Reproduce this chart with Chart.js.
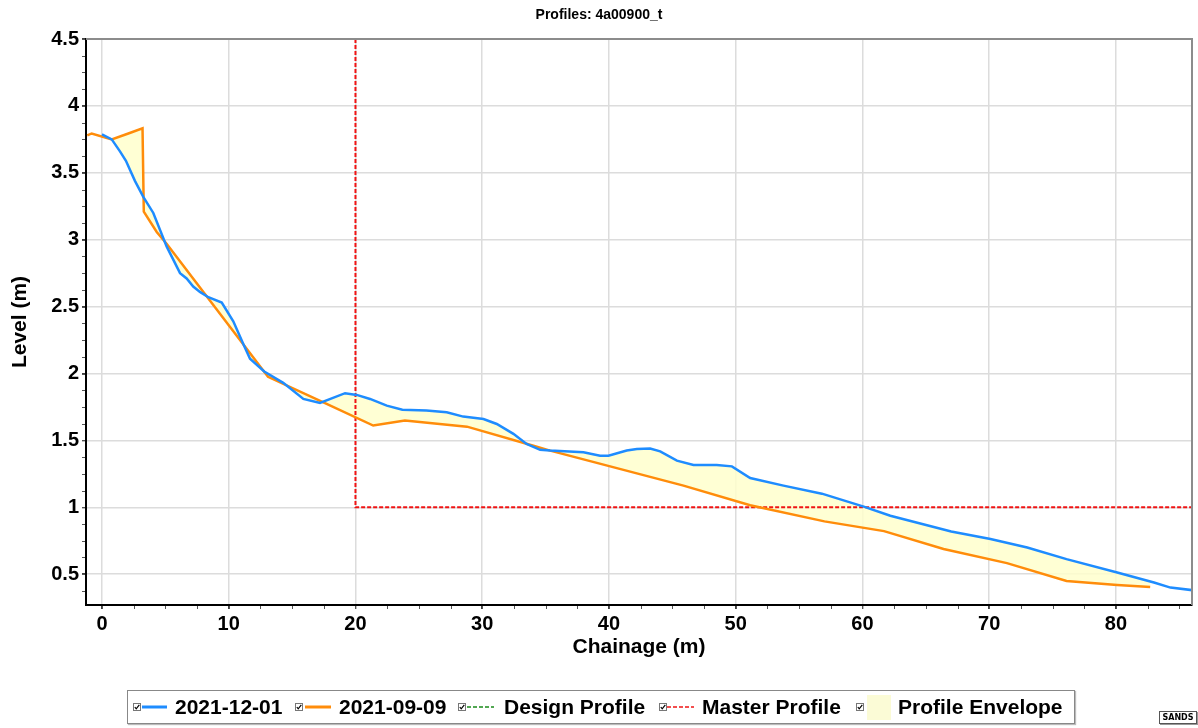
<!DOCTYPE html>
<html>
<head>
<meta charset="utf-8">
<script src="https://cdn.jsdelivr.net/npm/chart.js@4/dist/chart.umd.min.js"></script>
<style>
  html, body { margin: 0; padding: 0; background: #fff; }
  body { width: 1198px; height: 728px; position: relative; overflow: hidden; font-family: "Liberation Sans", Arial, sans-serif; }
  #wrap { position: absolute; left: 0; top: 0; width: 1198px; height: 728px; }
  #title { position: absolute; left: 0; top: 5px; width: 1198px; text-align: center; font-weight: bold; font-size: 14px; line-height: 18px; color: #000; }
  #legend { position: absolute; left: 127px; top: 690px; width: 946px; height: 32px; border: 1px solid #888; box-shadow: 1px 1px 1px #bbb; background: #fff; }
  .it { position: absolute; top: 0; height: 32px; line-height: 32px; font-weight: bold; font-size: 21px; color: #000; white-space: nowrap; }
  .sw { position: absolute; top: 0; display: block; }
  #sands { position: absolute; left: 1159px; top: 711px; width: 36px; height: 11px; border: 1px solid #555; box-shadow: 1px 1px 0 #999;
           font: bold 8px "DejaVu Sans", sans-serif; line-height: 11px; text-align: center; color: #000; }
</style>
</head>
<body>
<div id="wrap"><canvas id="myChart" width="1198" height="728"></canvas></div>
<div id="title">Profiles: 4a00900_t</div>
<div id="legend"></div>
<div id="sands">SANDS</div>
<script>
// 2021-12-01 survey
const chainDec = [0, 0.77, 1.42, 1.89, 2.6, 3.26, 4.05, 5.1, 6.16, 6.68, 7.2, 7.73, 8.39, 9.45, 10.36, 11.15, 11.68, 12.8, 14.3, 15.89,
  17.2, 19.18, 20.1, 21.15, 22.47, 23.7, 25.6, 27.2, 28.5, 30.1, 31.15, 32.46, 33.5, 34.57, 35.36, 37.99, 39.3, 39.96, 41.4, 42.2,
  43.25, 44.04, 45.36, 46.67, 48.5, 49.7, 51.14, 53.77, 56.8, 60.1, 62.2, 67.0, 70.1, 73.0, 76.1, 80.1, 83.0, 84.3, 86.1];
const levelDec = [3.787, 3.75, 3.66, 3.59, 3.44, 3.32, 3.2, 2.95, 2.75, 2.71, 2.65, 2.61, 2.57, 2.53, 2.39, 2.22, 2.11, 2.015, 1.93, 1.81,
  1.78, 1.853, 1.84, 1.81, 1.76, 1.73, 1.723, 1.71, 1.678, 1.66, 1.623, 1.549, 1.474, 1.43, 1.424, 1.411, 1.386, 1.386, 1.424, 1.436,
  1.44, 1.418, 1.349, 1.317, 1.317, 1.306, 1.219, 1.162, 1.102, 1.005, 0.937, 0.82, 0.763, 0.70, 0.613, 0.513, 0.438, 0.40, 0.38];

// 2021-09-09 survey
const chainSep = [-1.16, -0.81, 0.77, 2.08, 3.2, 3.3, 4.32, 5.1, 13.1, 17.47, 21.4, 23.9, 28.8, 34.04, 35.36, 45.88, 51.14, 57.0,
  61.7, 66.4, 71.4, 76.1, 80.1, 82.7];
const levelSep = [3.78, 3.794, 3.75, 3.794, 3.832, 3.21, 3.058, 2.97, 1.975, 1.785, 1.611, 1.648, 1.603, 1.46, 1.424, 1.162, 1.015, 0.895,
  0.822, 0.688, 0.583, 0.45, 0.42, 0.405];

// master profile
const chainMaster = [20, 20, 86];
const levelMaster = [4.5, 1.0, 1.0];

const xMin = -1.26, xMax = 86;
const yMin = 0.27, yMax = 4.5;

const legendItems = [
  { label: "2021-12-01", kind: "solid", color: "#1e8cff", cb: 133, l0: 142, l1: 167, tx: 175 },
  { label: "2021-09-09", kind: "solid", color: "#ff8c0a", cb: 295, l0: 305, l1: 331, tx: 339 },
  { label: "Design Profile", kind: "dash", color: "#1a8a1a", cb: 458, l0: 467, l1: 494, tx: 504 },
  { label: "Master Profile", kind: "dash", color: "#f01414", cb: 659, l0: 667, l1: 694, tx: 702 },
  { label: "Profile Envelope", kind: "box", color: "#fbfbd6", cb: 856, l0: 867, l1: 891, tx: 898 },
];

function pts(xs, ys) {
  return xs.map((x, i) => ({ x: x, y: ys[i] }));
}

const FONT = "'Liberation Sans', Arial, sans-serif";

// frame on top/right and minor ticks on the axes
const frame = {
  id: "frame",
  afterDraw(chart) {
    const { ctx, chartArea: a, scales } = chart;
    const x = scales.x, y = scales.y;
    ctx.save();
    ctx.strokeStyle = "#8c8c8c";
    ctx.lineWidth = 2;
    ctx.beginPath();
    ctx.moveTo(a.left, a.top);
    ctx.lineTo(a.right, a.top);
    ctx.lineTo(a.right, a.bottom);
    ctx.stroke();

    ctx.strokeStyle = "#555";
    ctx.lineWidth = 1;
    ctx.beginPath();
    for (let v = -2.5; v <= xMax; v += 2.5) {
      if (v < xMin) continue;
      const px = Math.round(x.getPixelForValue(v)) + 0.5;
      ctx.moveTo(px, a.bottom + 1);
      ctx.lineTo(px, a.bottom + 4);
    }
    for (let v = 0.25; v <= yMax; v += 0.125) {
      if (v < yMin) continue;
      const py = Math.round(y.getPixelForValue(v)) + 0.5;
      ctx.moveTo(a.left - 1, py);
      ctx.lineTo(a.left - 4, py);
    }
    ctx.stroke();
    ctx.restore();
  }
};

const ctx = document.getElementById("myChart").getContext("2d");
const myChart = new Chart(ctx, {
  type: "line",
  data: {
    datasets: [
      {
        label: "2021-12-01",
        data: pts(chainDec, levelDec),
        borderColor: "#1e8cff",
        borderWidth: 2.5,
        pointRadius: 0,
        tension: 0,
        fill: { target: 1, above: "rgba(255,255,205,0.85)", below: "rgba(255,255,205,0.85)" },
      },
      {
        label: "2021-09-09",
        data: pts(chainSep, levelSep),
        borderColor: "#ff8c0a",
        borderWidth: 2.5,
        pointRadius: 0,
        tension: 0,
        fill: false,
      },
      {
        label: "Master Profile",
        data: pts(chainMaster, levelMaster),
        borderColor: "#f01414",
        borderWidth: 2,
        borderDash: [4, 2],
        pointRadius: 0,
        tension: 0,
        fill: false,
      },
      {
        label: "Design Profile",
        data: [],
        borderColor: "#1a8a1a",
        borderDash: [4, 2],
        pointRadius: 0,
      },
    ],
  },
  options: {
    responsive: true,
    maintainAspectRatio: false,
    animation: false,
    devicePixelRatio: 1,
    layout: { padding: { top: 39, right: 6, bottom: 68, left: 0 } },
    plugins: {
      legend: { display: false },
      title: { display: false },
      tooltip: { enabled: false },
      filler: { drawTime: "beforeDatasetsDraw" },
    },
    scales: {
      x: {
        type: "linear",
        min: xMin,
        max: xMax,
        afterFit: (s) => { s.height = 55; },
        ticks: {
          stepSize: 10,
          includeBounds: false,
          padding: 3,
          color: "#000",
          font: { family: FONT, size: 20, weight: "bold" },
          maxRotation: 0,
        },
        grid: { color: "#dcdcdc", lineWidth: 1.5, tickColor: "#000", tickLength: 4, tickWidth: 1 },
        border: { color: "#000", width: 2 },
        title: {
          display: true,
          text: "Chainage (m)",
          color: "#000",
          padding: { top: 0, bottom: 0 },
          font: { family: FONT, size: 21, weight: "bold" },
        },
      },
      y: {
        type: "linear",
        min: yMin,
        max: yMax,
        afterFit: (s) => { s.width = 86; },
        ticks: {
          stepSize: 0.5,
          includeBounds: false,
          padding: 3,
          color: "#000",
          font: { family: FONT, size: 20, weight: "bold" },
          callback: (v) => String(+v.toFixed(2)),
        },
        grid: { color: "#dcdcdc", lineWidth: 1.5, tickColor: "#000", tickLength: 4, tickWidth: 1 },
        border: { color: "#000", width: 2 },
        title: {
          display: true,
          text: "Level (m)",
          color: "#000",
          padding: { top: 8, bottom: 0 },
          font: { family: FONT, size: 21, weight: "bold" },
        },
      },
    },
  },
  plugins: [frame],
});

// legend row with check boxes, as drawn by the original tool
const legendEl = document.getElementById("legend");
const off = 128;
legendItems.forEach((it) => {
  const w = it.l1 - it.cb + 2;
  let mark;
  if (it.kind === "box") {
    mark = '<rect x="' + (it.l0 - it.cb) + '" y="4" width="' + (it.l1 - it.l0) + '" height="25" fill="' + it.color + '"/>';
  } else if (it.kind === "solid") {
    mark = '<line x1="' + (it.l0 - it.cb) + '" y1="16" x2="' + (it.l1 - it.cb) + '" y2="16" stroke="' + it.color + '" stroke-width="3"/>';
  } else {
    mark = '<line x1="' + (it.l0 - it.cb) + '" y1="16" x2="' + (it.l1 - it.cb) + '" y2="16" stroke="' + it.color + '" stroke-width="1.6" stroke-dasharray="4 2"/>';
  }
  const sw = document.createElement("div");
  sw.className = "sw";
  sw.style.left = (it.cb - off) + "px";
  sw.innerHTML = '<svg width="' + w + '" height="32" style="display:block">' +
    '<rect x="0.5" y="12.5" width="7" height="7" fill="#fff" stroke="#777"/>' +
    '<path d="M1.8 16 L3.2 17.8 L6.3 13.8" fill="none" stroke="#000" stroke-width="1.2"/>' + mark + '</svg>';
  legendEl.appendChild(sw);

  const tx = document.createElement("div");
  tx.className = "it";
  tx.style.left = (it.tx - off) + "px";
  tx.textContent = it.label;
  legendEl.appendChild(tx);
});
</script>
</body>
</html>
